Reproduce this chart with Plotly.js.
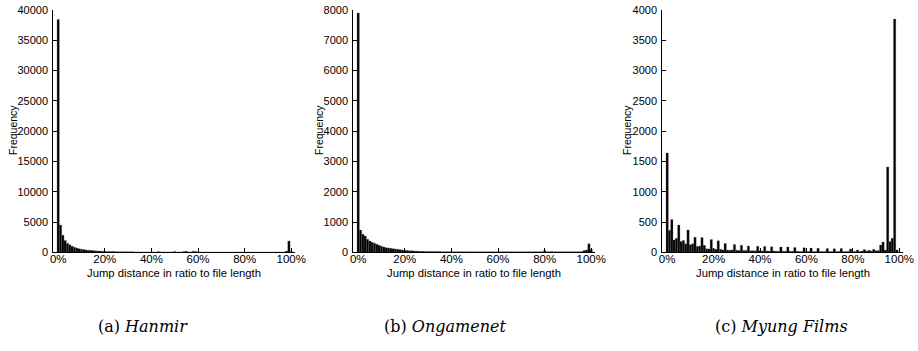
<!DOCTYPE html>
<html>
<head>
<meta charset="utf-8">
<script src="https://cdn.plot.ly/plotly-3.0.1.min.js"></script>
<style>html,body{margin:0;padding:0;background:#fff;}#chart{width:918px;height:351px;}</style>
</head>
<body>
<div id="chart"></div>
<script>
// Bin positions: jump distance (% of file length)
const bins = [0,1,2,3,4,5,6,7,8,9,10,11,12,13,14,15,16,17,18,19,20,21,22,23,24,25,26,27,28,29,30,31,32,33,34,35,36,37,38,39,40,41,42,43,44,45,46,47,48,49,50,51,52,53,54,55,56,57,58,59,60,61,62,63,64,65,66,67,68,69,70,71,72,73,74,75,76,77,78,79,80,81,82,83,84,85,86,87,88,89,90,91,92,93,94,95,96,97,98,99,100];

// (a) Hanmir
const hanmir = [38450,4500,2800,1950,1500,1250,1000,850,700,600,500,450,400,350,320,280,250,220,200,180,160,150,140,130,120,110,100,95,90,85,80,75,72,70,68,66,64,62,60,60,58,56,55,120,55,60,50,50,50,50,150,50,50,50,120,170,50,50,180,150,45,45,45,45,45,45,45,45,45,45,40,40,40,40,40,40,40,40,40,40,40,40,40,40,40,40,40,40,40,40,40,40,40,40,40,40,40,40,200,1870,100];

// (b) Ongamenet
const ongamenet = [7900,737,594,540,430,374,330,297,264,231,198,176,154,143,132,121,110,99,88,77,66,60,55,50,45,40,35,33,31,30,28,27,26,25,24,23,22,21,20,20,18,18,17,17,16,16,16,15,15,15,15,15,15,15,15,15,15,15,15,15,15,15,15,15,15,15,15,15,15,15,15,15,15,15,15,15,15,15,15,15,60,20,15,30,15,15,15,15,15,15,15,15,15,15,15,15,30,60,80,280,90];

// (c) Myung Films
const myung = [1640,365,540,205,230,450,180,195,140,370,125,140,250,95,105,245,115,60,55,210,60,50,190,50,40,145,40,35,40,128,35,30,117,30,28,106,25,25,24,100,25,22,97,22,20,92,20,18,18,88,18,18,88,16,16,80,16,15,15,75,15,15,70,14,14,66,14,14,14,62,14,14,58,14,14,62,14,14,14,55,15,15,40,15,20,45,20,35,20,50,25,30,120,170,40,1410,180,230,3850,40,0];

const xTickVals = [0,20,40,60,80,100];
const xTickText = ['0%','20%','40%','60%','80%','100%'];
const yMax = [40000, 8000, 4000];
const yStep = [5000, 1000, 500];
const series = [hanmir, ongamenet, myung];
const captionLabels = ['(a) ', '(b) ', '(c) '];
const captionNames = ['Hanmir', 'Ongamenet', 'Myung Films'];

const xDomains = [[53.3/918, 295/918],[353.3/918, 595/918],[662.3/918, 903/918]];
const yDomain = [1-252.3/351, 1-10/351];
const yTitleX = [13, 319, 627];
const captionX = [143, 445, 781];

const traces = [];
const layout = {
  width: 918, height: 351,
  margin: {l:0, r:0, t:0, b:0},
  paper_bgcolor: '#fff', plot_bgcolor: '#fff',
  showlegend: false,
  bargap: 0,
  font: {family: 'Liberation Sans, Arial, sans-serif', size: 11, color: '#000'},
  annotations: []
};

for (let i = 0; i < 3; i++) {
  const ax = i === 0 ? '' : String(i+1);
  traces.push({
    type: 'bar', x: bins, y: series[i],
    xaxis: 'x'+ax, yaxis: 'y'+ax,
    width: 1,
    marker: {color: '#000', line: {color: '#666', width: 0.3}},
    hoverinfo: 'skip'
  });
  layout['xaxis'+ax] = {
    domain: xDomains[i], anchor: 'y'+ax,
    range: [-2.1, 101.6],
    tickvals: xTickVals, ticktext: xTickText,
    ticks: 'inside', ticklen: 4, tickcolor: '#000', tickwidth: 1,
    showline: true, linecolor: '#000', linewidth: 1,
    showgrid: false, zeroline: false,
    tickfont: {size: 11.5, color: '#000'},
    ticklabelstandoff: -4
  };
  layout['yaxis'+ax] = {
    domain: yDomain, anchor: 'x'+ax,
    range: [0, yMax[i]], dtick: yStep[i], tick0: 0,
    tickformat: 'd',
    ticks: 'inside', ticklen: 4, tickcolor: '#000', tickwidth: 1,
    showline: true, linecolor: '#000', linewidth: 1,
    showgrid: false, zeroline: false,
    tickfont: {size: 11, color: '#000'},
    ticklabelstandoff: 2
  };
  layout.annotations.push({
    xref: 'paper', yref: 'paper',
    x: (xDomains[i][0]+xDomains[i][1])/2, y: 1-273/351,
    text: 'Jump distance in ratio to file length',
    showarrow: false, xanchor: 'center', yanchor: 'middle',
    font: {size: 11.3, color: '#000'}
  });
  layout.annotations.push({
    xref: 'paper', yref: 'paper',
    x: yTitleX[i]/918, y: 1-130/351,
    text: 'Frequency', textangle: -90,
    showarrow: false, xanchor: 'center', yanchor: 'middle',
    font: {size: 10.5, color: '#000'}
  });
  layout.annotations.push({
    xref: 'paper', yref: 'paper',
    x: captionX[i]/918, y: 1-326/351,
    text: captionLabels[i] + '<i>' + captionNames[i] + '</i>',
    showarrow: false, xanchor: 'center', yanchor: 'middle',
    font: {family: 'DejaVu Serif, Liberation Serif, serif', size: 16, color: '#000'}
  });
}

Plotly.newPlot('chart', traces, layout, {displayModeBar: false, staticPlot: true});
</script>
</body>
</html>
